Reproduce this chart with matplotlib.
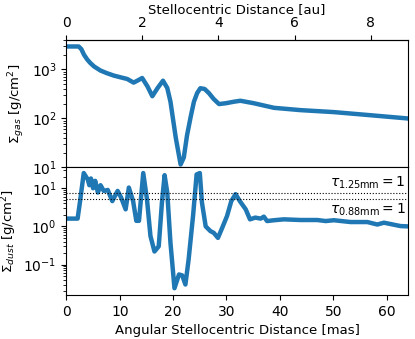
import numpy as np
import matplotlib
matplotlib.use("Agg")
import matplotlib.pyplot as plt

# gas surface density (mas, g/cm^2)
gas_r = [0, 2.3, 2.8, 3.3, 3.9, 4.5, 5.2, 6.4, 7.6, 8.9, 10.2, 11.4, 12.6, 13.4, 14.2, 15.2, 16.1,
         17.1, 18.1, 18.9, 19.5, 20.5, 21.4, 22.0, 22.6, 23.3, 23.9, 24.5, 25.1, 25.9,
         26.7, 27.6, 28.6, 29.9, 31.4, 32.6, 35.1, 38.9, 43.9, 50.1, 56.4, 64.0]
gas_s = [2950, 2950, 2600, 2000, 1600, 1350, 1150, 950, 840, 750, 690, 640, 540, 600, 670, 450, 285,
         420, 590, 420, 220, 40, 11.5, 16, 45, 110, 220, 330, 415, 400,
         330, 250, 197, 205, 220, 230, 205, 165, 148, 135, 118, 100]

# dust surface density (mas, g/cm^2)
dust_r = [0, 2.1, 2.6, 3.25, 4.0, 4.3, 4.6, 5.0, 5.4, 5.9, 6.4, 7.0, 7.75, 8.6, 9.6,
          10.25, 11.1, 11.7, 12.5, 13.1, 13.6, 14.4, 15.1, 15.75, 16.5, 17.3, 17.9, 18.4,
          18.9, 19.5, 20.25, 21.1, 21.7, 22.3, 22.9, 23.75, 24.4, 25.0, 25.4, 26.1, 27.0,
          27.6, 28.4, 29.2, 30.1, 30.9, 31.7, 32.5, 33.6, 34.4, 35.4, 36.4, 37.0, 37.6,
          38.9, 40.75, 43.9, 47.0, 48.6, 50.1, 53.25, 56.4, 58.25, 59.5, 62.6, 64.0]
dust_s = [1.6, 1.6, 5.0, 25, 17, 12, 18, 10, 15.6, 7.7, 12, 8.5, 9, 4.6, 8.5,
          5.7, 2.8, 10.4, 4.6, 1.4, 1.4, 25, 5.1, 0.56, 0.22, 0.3, 4.2, 22,
          7.7, 0.37, 0.024, 0.055, 0.052, 0.03, 0.135, 2.0, 23, 25, 4.2, 1.0, 0.75,
          0.68, 0.5, 0.92, 1.87, 4.6, 7.0, 4.6, 2.8, 1.53, 1.7, 1.6, 1.8, 1.38,
          1.45, 1.53, 1.47, 1.47, 1.38, 1.45, 1.3, 1.3, 1.12, 1.25, 1.02, 1.0]

au_ticks = [0, 2, 4, 6, 8]
tau_125 = 7.7
tau_088 = 5.1
mas_per_au = 7.125

plt.rcParams["font.size"] = 10
plt.rcParams["axes.labelsize"] = 9.5

fig, (ax1, ax2) = plt.subplots(2, 1, sharex=True, figsize=(4.15, 3.39), dpi=100)
fig.subplots_adjust(left=0.16, right=0.983, top=0.882, bottom=0.13, hspace=0)

ax1.plot(gas_r, gas_s, color="#1f77b4", lw=3.2)
ax1.set_yscale("log")
ax1.set_ylim(10, 4000)
ax1.set_ylabel(r"$\Sigma_{gas}$ [g/cm$^2$]", labelpad=3)
ax1.tick_params(axis="x", bottom=False)

sec = ax1.secondary_xaxis("top", functions=(lambda x: x / mas_per_au, lambda x: x * mas_per_au))
sec.set_xticks(au_ticks)
sec.set_xlabel("Stellocentric Distance [au]", labelpad=2)

ax2.plot(dust_r, dust_s, color="#1f77b4", lw=3.2)
ax2.set_yscale("log")
ax2.set_ylim(0.016, 35)
ax2.axhline(tau_125, color="k", ls=":", lw=0.8)
ax2.axhline(tau_088, color="k", ls=":", lw=0.8)
ax2.text(63.5, tau_125 * 1.12, r"$\tau_{1.25\mathrm{mm}} = 1$", ha="right", va="bottom")
ax2.text(63.5, tau_088 * 0.88, r"$\tau_{0.88\mathrm{mm}} = 1$", ha="right", va="top")
ax2.set_ylabel(r"$\Sigma_{dust}$ [g/cm$^2$]", labelpad=3)
ax2.set_xlabel("Angular Stellocentric Distance [mas]")
ax2.set_xlim(0, 64)

fig.savefig("out.png")
